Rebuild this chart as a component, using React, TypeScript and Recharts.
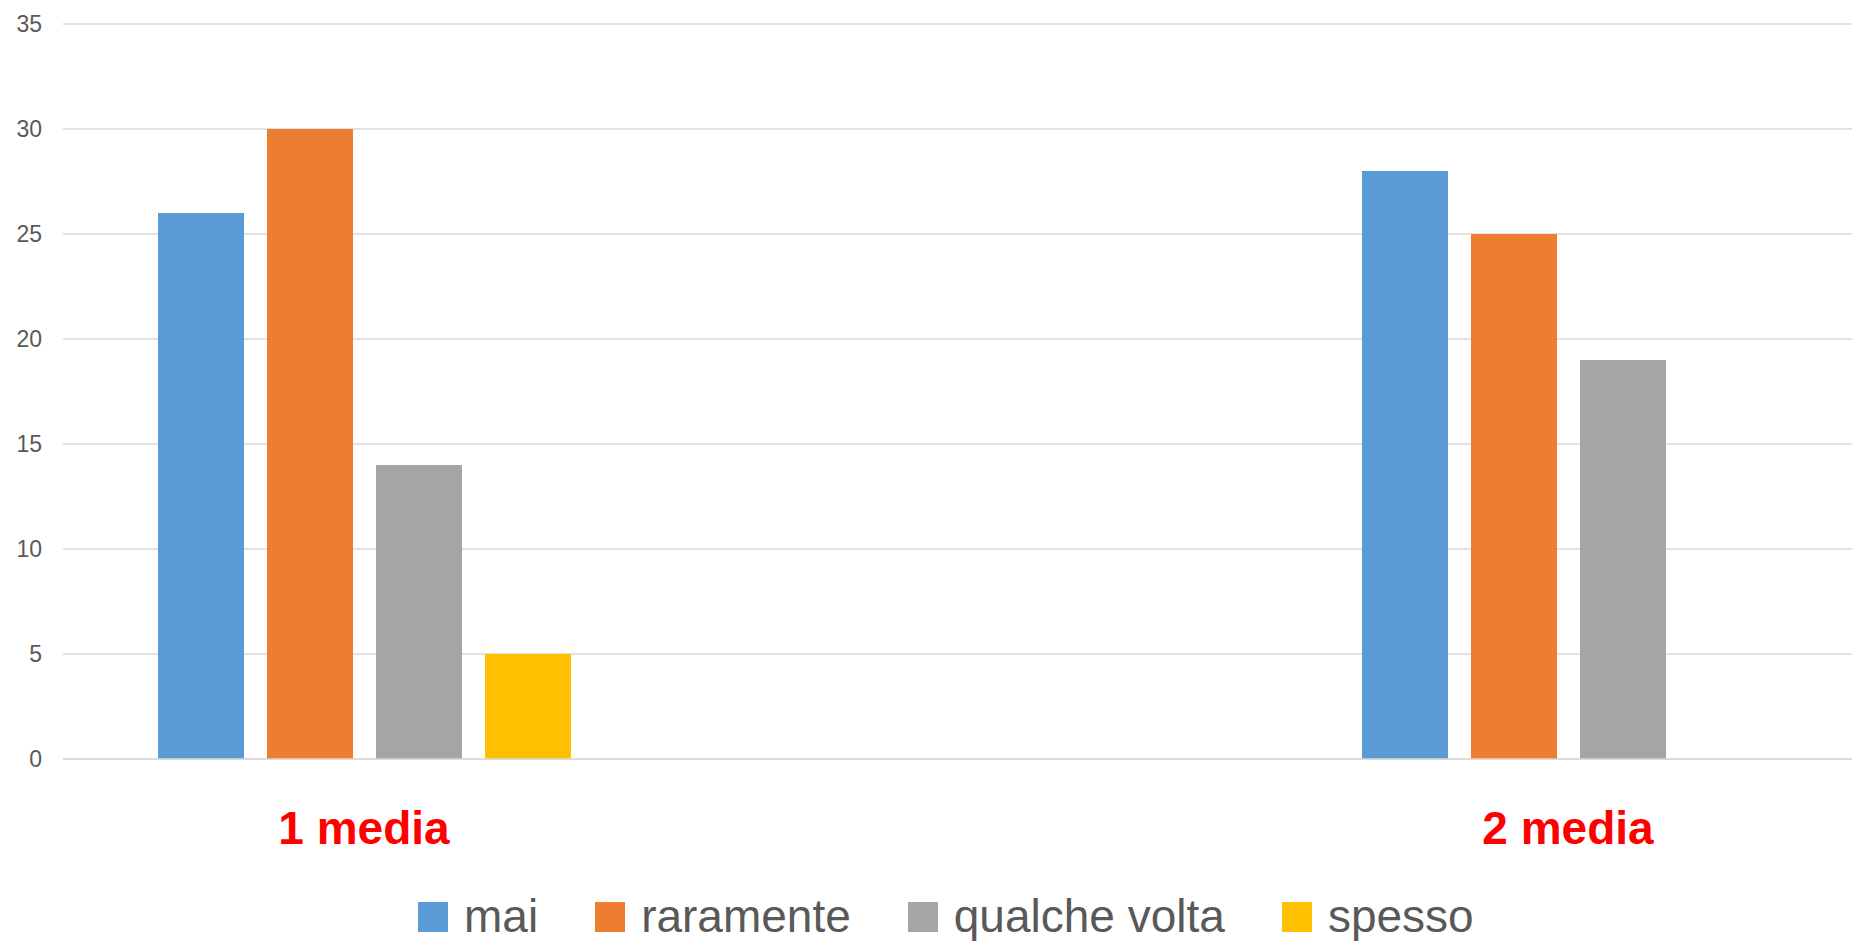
import React from 'react';
import { BarChart, Bar, XAxis, YAxis, CartesianGrid, Legend } from 'recharts';

const categories = ['1 media', '', '2 media'];
const maiValues = [26, null, 28];
const raramenteValues = [30, null, 25];
const qualcheVoltaValues = [14, null, 19];
const spessoValues = [5, null, null];
const yTicks = [0, 5, 10, 15, 20, 25, 30, 35];
const seriesNames = ['mai', 'raramente', 'qualche volta', 'spesso'];
const seriesColors = ['#5B9BD5', '#ED7D31', '#A5A5A5', '#FFC000'];
const seriesValues = [maiValues, raramenteValues, qualcheVoltaValues, spessoValues];

const data = categories.map((c, i) => {
  const row: any = { name: c };
  seriesValues.forEach((vals, s) => {
    row['s' + s] = vals[i];
  });
  return row;
});

const FONT = '"Liberation Sans", Arial, sans-serif';

const CategoryTick = (props: any) => {
  const { x, y, payload } = props;
  return (
    <text x={x} y={y} dy={85} textAnchor="middle" fill="#FF0000" fontWeight="bold" fontSize={46} fontFamily={FONT}>
      {payload.value}
    </text>
  );
};

const renderLegend = () => {
  return (
    <div style={{ whiteSpace: 'nowrap', fontFamily: FONT, fontSize: 46, lineHeight: '60px', color: '#595959' }}>
      {seriesNames.map((name, i) => (
        <span key={name} style={{ marginRight: i < seriesNames.length - 1 ? 57 : 0 }}>
          <span style={{ display: 'inline-block', width: 30, height: 30, background: seriesColors[i], marginRight: 16, verticalAlign: 'baseline' }} />
          <span>{name}</span>
        </span>
      ))}
    </div>
  );
};

export default function App() {
  return (
    <div style={{ position: 'absolute', left: 0, top: 0, width: 1852, height: 941, overflow: 'hidden', background: '#fff' }}>
      <BarChart
        width={1900}
        height={941}
        data={data}
        margin={{ top: 24, right: 31, left: 0, bottom: 72 }}
        barSize={86}
        barGap={23}
      >
        <CartesianGrid vertical={false} stroke="#d9d9d9" strokeWidth={1.5} />
        <XAxis
          dataKey="name"
          height={110}
          interval={0}
          tickSize={0}
          tickMargin={0}
          tickLine={false}
          axisLine={{ stroke: '#d9d9d9', strokeWidth: 1.5 }}
          tick={<CategoryTick />}
        />
        <YAxis
          width={63}
          domain={[0, 35]}
          ticks={yTicks}
          axisLine={false}
          tickLine={false}
          tickSize={0}
          tickMargin={21}
          tick={{ fill: '#595959', fontSize: 23, fontFamily: FONT }}
        />
        <Legend
          layout="horizontal"
          verticalAlign="middle"
          align="center"
          content={renderLegend}
          wrapperStyle={{ position: 'absolute', left: 418, top: 886, width: 'auto', height: 60 }}
        />
        {seriesNames.map((n, s) => (
          <Bar key={n} dataKey={'s' + s} name={n} fill={seriesColors[s]} isAnimationActive={false} />
        ))}
      </BarChart>
    </div>
  );
}
